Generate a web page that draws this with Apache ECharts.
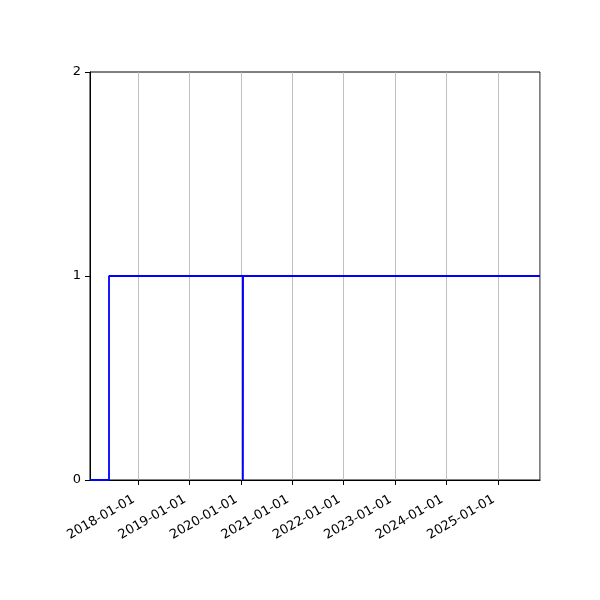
<!DOCTYPE html>
<html><head><meta charset="utf-8">
<script src="https://cdn.jsdelivr.net/npm/echarts@6/dist/echarts.min.js"></script>
<style>html,body{margin:0;padding:0;background:#fff}#c{width:600px;height:600px}</style>
</head><body><div id="c"></div>
<script>
const dates = ['2017-01-25', '2017-06-09', '2020-01-16', '2020-01-17', '2025-10-26'];
const values = [0, 1, 0, 1, 1];
const xMin = '2017-01-25';
const xMax = '2025-10-26';
const yTicks = [0, 1, 2];

const YEAR = 365 * 24 * 3600 * 1000;
const chart = echarts.init(document.getElementById('c'));
chart.setOption({
  animation: false,
  grid: { left: 90, top: 72, right: 60, bottom: 120, show: true, borderColor: '#000', borderWidth: 1, backgroundColor: 'transparent' },
  xAxis: {
    type: 'time',
    min: +new Date(xMin + 'T00:00:00Z'),
    max: +new Date(xMax + 'T00:00:00Z'),
    minInterval: YEAR,
    maxInterval: YEAR + 86400000,
    axisLine: { show: true, onZero: false, lineStyle: { color: '#000', width: 1 } },
    axisTick: { show: true, length: 5, lineStyle: { color: '#000' } },
    minorTick: { show: false },
    splitLine: { show: true, lineStyle: { color: '#b0b0b0', width: 0.8 } },
    axisLabel: {
      rotate: 30, interval: 0, color: '#000', fontFamily: 'DejaVu Sans', fontSize: 13,
      showMinLabel: false, showMaxLabel: false, margin: 16, padding: [0, 5, 0, 0],
      formatter: function (v) { const d = new Date(v); return echarts.time.format(d, '{yyyy}-{MM}-{dd}', true); }
    }
  },
  yAxis: {
    type: 'value', min: yTicks[0], max: yTicks[yTicks.length - 1], interval: 1,
    axisLine: { show: true, lineStyle: { color: '#000', width: 1 } },
    axisTick: { show: true, length: 5, lineStyle: { color: '#000' } },
    splitLine: { show: false },
    axisLabel: { color: '#000', fontFamily: 'DejaVu Sans', fontSize: 13, margin: 9 }
  },
  series: [{
    type: 'line', step: 'end', showSymbol: false, symbol: 'none',
    lineStyle: { color: '#0000ff', width: 1.8 },
    data: dates.map((d, i) => [d + 'T00:00:00Z', values[i]])
  }]
});
</script></body></html>
